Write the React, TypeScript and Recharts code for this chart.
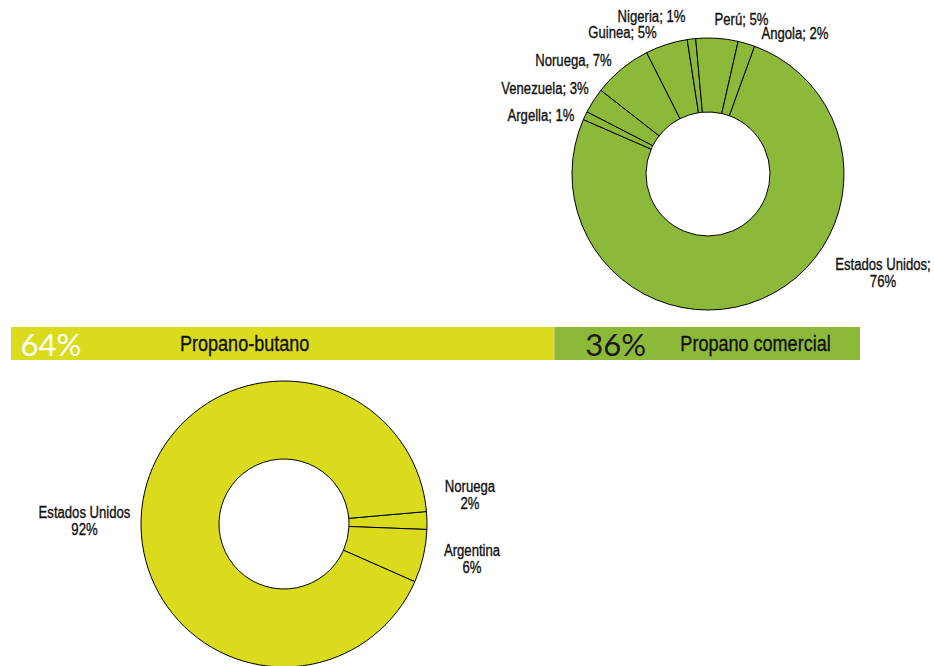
import React from 'react'
import { PieChart, Pie, Cell, BarChart, Bar, XAxis, YAxis, LabelList } from 'recharts'

const FONT = "'Liberation Sans', Arial, sans-serif"
const PCT_FONT = "Lato, 'Open Sans', 'Liberation Sans', sans-serif"
const NARROW = 0.82 // horizontal squeeze, stands in for a condensed face
const YELLOW = '#D9DB1C'
const GREEN = '#8DB93B'

// Propano comercial por origen (sentido horario desde Estados Unidos)
const comercialPaises = ['Estados Unidos', 'Argella', 'Venezuela', 'Noruega', 'Guinea', 'Nigeria', 'Perú', 'Angola']
const comercialValores = [76, 1, 3, 7, 5, 1, 5, 2]

// Propano-butano por origen
const butanoPaises = ['Noruega', 'Argentina', 'Estados Unidos']
const butanoValores = [2, 6, 92]

// reparto total
const tipos = ['Propano-butano', 'Propano comercial']
const tipoValores = [64, 36]

// label anchors, relative to the donut centre
const COMERCIAL_LABEL_POS: Record<string, [number, number]> = {
  'Estados Unidos': [175, 91],
  Argella: [-167, -58],
  Venezuela: [-163, -85],
  Noruega: [-134.5, -113.5],
  Guinea: [-85.5, -141],
  Nigeria: [-56.5, -157.5],
  'Perú': [33.5, -154.5],
  Angola: [87, -140],
}

const BUTANO_LABEL_POS: Record<string, [number, number]> = {
  'Estados Unidos': [-199.5, -11],
  Noruega: [186, -37],
  Argentina: [188, 27],
}

const comercialData = comercialPaises.map((name, i) => ({ name, value: comercialValores[i] }))
const butanoData = butanoPaises.map((name, i) => ({ name, value: butanoValores[i] }))
const tipoRow = [{ name: 'total', butano: tipoValores[0], comercial: tipoValores[1] }]

// condensed text, one or more lines, drawn around (x, y)
function NarrowText({ x, y, lines, size = 16, anchor = 'middle', gap = 17, fill = '#111' }: any) {
  return (
    <g transform={`translate(${x},${y}) scale(${NARROW},1)`}>
      <text
        textAnchor={anchor}
        dominantBaseline="central"
        fontFamily={FONT}
        fontSize={size}
        fill={fill}
        stroke={fill}
        strokeWidth={0.35}
      >
        {lines.map((l: string, i: number) => (
          <tspan key={i} x={0} y={i * gap}>{l}</tspan>
        ))}
      </text>
    </g>
  )
}

const renderComercialLabel = (props: any) => {
  const { cx, cy, index } = props
  const name = comercialPaises[index]
  const v = comercialValores[index]
  const [dx, dy] = COMERCIAL_LABEL_POS[name]
  let lines: string[]
  if (name === 'Estados Unidos') lines = [`${name};`, `${v}%`]
  else if (name === 'Noruega') lines = [`${name}, ${v}%`]
  else lines = [`${name}; ${v}%`]
  return <NarrowText key={name} x={cx + dx} y={cy + dy} lines={lines} />
}

const renderButanoLabel = (props: any) => {
  const { cx, cy, index } = props
  const name = butanoPaises[index]
  const [dx, dy] = BUTANO_LABEL_POS[name]
  return <NarrowText key={name} x={cx + dx} y={cy + dy} lines={[name, `${butanoValores[index]}%`]} />
}

const barText = (idx: number, pctDx: number, nameDx: number, pctColor: string) => (props: any) => {
  const { x, y, height } = props
  const mid = y + height / 2
  return (
    <g>
      <text x={x + pctDx} y={mid} dominantBaseline="central" fontFamily={PCT_FONT} fontWeight={400} fontSize={31} fill={pctColor}>
        {tipoValores[idx]}%
      </text>
      <NarrowText x={x + nameDx} y={mid} anchor="start" size={22} lines={[tipos[idx]]} />
    </g>
  )
}

export default function App() {
  return (
    <div style={{ position: 'absolute', left: 0, top: 0, width: 934, height: 666, overflow: 'hidden', background: '#fff' }}>
      <div style={{ position: 'absolute', left: 0, top: 0 }}>
        <PieChart width={934} height={330} margin={{ top: 0, right: 0, bottom: 0, left: 0 }}>
          <Pie
            data={comercialData}
            dataKey="value"
            nameKey="name"
            cx={708}
            cy={174}
            innerRadius={62}
            outerRadius={136}
            startAngle={70}
            endAngle={-290}
            stroke="#000"
            strokeWidth={1}
            label={renderComercialLabel}
            labelLine={false}
            isAnimationActive={false}
          >
            {comercialData.map((d) => (
              <Cell key={d.name} fill={GREEN} stroke="#000" />
            ))}
          </Pie>
        </PieChart>
      </div>

      <div style={{ position: 'absolute', left: 0, top: 360 }}>
        <PieChart width={934} height={306} margin={{ top: 0, right: 0, bottom: 0, left: 0 }}>
          <Pie
            data={butanoData}
            dataKey="value"
            nameKey="name"
            cx={284}
            cy={164}
            innerRadius={65}
            outerRadius={143}
            startAngle={5}
            endAngle={-355}
            stroke="#000"
            strokeWidth={1}
            label={renderButanoLabel}
            labelLine={false}
            isAnimationActive={false}
          >
            {butanoData.map((d) => (
              <Cell key={d.name} fill={YELLOW} stroke="#000" />
            ))}
          </Pie>
        </PieChart>
      </div>

      <div style={{ position: 'absolute', left: 11, top: 327 }}>
        <BarChart
          width={849}
          height={33}
          layout="vertical"
          data={tipoRow}
          margin={{ top: 0, right: 0, bottom: 0, left: 0 }}
          barCategoryGap={0}
        >
          <XAxis type="number" domain={[0, 100]} hide />
          <YAxis type="category" dataKey="name" hide />
          <Bar dataKey="butano" stackId="t" fill={YELLOW} isAnimationActive={false}>
            <LabelList dataKey="butano" content={barText(0, 9.5, 169, '#fff')} />
          </Bar>
          <Bar dataKey="comercial" stackId="t" fill={GREEN} isAnimationActive={false}>
            <LabelList dataKey="comercial" content={barText(1, 31, 126, '#1a1a1a')} />
          </Bar>
        </BarChart>
      </div>
    </div>
  )
}
